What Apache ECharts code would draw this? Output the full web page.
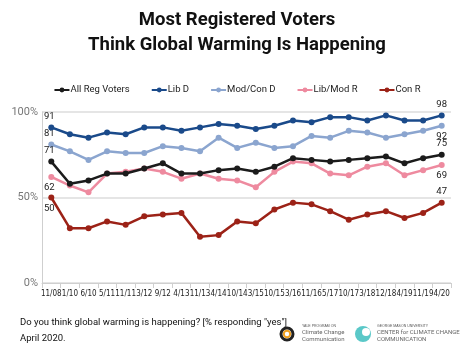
<!DOCTYPE html>
<html><head><meta charset="utf-8">
<script src="https://cdn.jsdelivr.net/npm/echarts@6/dist/echarts.min.js"></script>
<style>html,body{margin:0;padding:0;background:#fff}#c{width:474px;height:355px}</style>
</head><body><div id="c"></div>
<script>
const categories = ['11/08','1/10','6/10','5/11','11/11','3/12','9/12','4/13','11/13','4/14','10/14','3/15','10/15','3/16','11/16','5/17','10/17','3/18','12/18','4/19','11/19','4/20'];
const allRegVoters = [71,58,60,64,64,67,70,64,64,66,67,65,68,73,72,71,72,73,74,70,73,75];
const libD = [91,87,85,88,87,91,91,89,91,93,92,90,92,95,94,97,97,95,98,95,95,98];
const modConD = [81,77,72,77,76,76,80,79,77,85,79,82,79,80,86,85,89,88,85,87,89,92];
const libModR = [62,57,53,64,65,67,65,61,64,61,60,56,65,71,70,64,63,68,70,63,66,69];
const conR = [50,32,32,36,34,39,40,41,27,28,36,35,43,47,46,42,37,40,42,38,41,47];
const seriesNames = ['All Reg Voters','Lib D','Mod/Con D','Lib/Mod R','Con R'];
const yTicks = [0,50,100];

const colors = ['#1b1b1b','#1a4a8a','#8ba5cf','#ee8a9f','#9c2217'];
const labelPos = [['top','top'],['top','top'],['top','bottom'],['bottom','bottom'],['bottom','top']];
const datas = [allRegVoters, libD, modConD, libModR, conR];

function mk(i){
  const d = datas[i];
  return {
    name: seriesNames[i], type:'line', data: d.map((v,k)=>{
      const o={value:v};
      if(k===0||k===d.length-1){
        o.label={show:true, position: labelPos[i][k===0?0:1], formatter:'{c}', fontSize:9.5, color:'#222', distance: 3, fontFamily:'Roboto', offset:[k===0?-2:0,0]};
      }
      return o;
    }),
    symbol:'circle', symbolSize:6, showSymbol:true,
    lineStyle:{width:2.5, color:colors[i]}, itemStyle:{color:colors[i]},
    emphasis:{disabled:true}, animation:false, z: 10-i
  };
}

const chart = echarts.init(document.getElementById('c'));
chart.setOption({
  animation:false,
  title:{text:'Most Registered Voters\nThink Global Warming Is Happening', left:'center', top:3,
    textStyle:{fontSize:18.5, fontWeight:'bold', color:'#111', lineHeight:25, fontFamily:'Roboto'}},
  legend:{data:seriesNames, top:80, left:'center', itemWidth:15, itemHeight:6, itemGap:21,
    textStyle:{fontSize:9.5, color:'#222', fontFamily:'Roboto', padding:[0,0,0,-4]}},
  grid:{left:42, right:23, top:112, bottom:72},
  xAxis:{type:'category', data:categories, boundaryGap:true,
    axisLine:{lineStyle:{color:'#cfcfcf'}}, axisTick:{show:true, lineStyle:{color:'#cfcfcf'}},
    axisLabel:{fontSize:8, color:'#222', interval:0, margin:7, fontFamily:'"Liberation Sans Narrow", "DejaVu Sans Condensed", Roboto'}},
  yAxis:{type:'value', min:0, max:100, interval:50,
    axisLine:{show:true, lineStyle:{color:'#cfcfcf'}},
    splitLine:{lineStyle:{color:'#dcdcdc', width:1.5}},
    axisLabel:{fontSize:11, color:'#777', formatter:v=>yTicks.includes(v)?v+'%':'', fontFamily:'Roboto', margin:4}},
  series:[0,1,2,3,4].map(mk),
  graphic:[
    {type:'text', left:20, top:315, style:{text:'Do you think global warming is happening? [% responding "yes"]\nApril 2020.', fontSize:9.5, lineHeight:16, fill:'#111', fontFamily:'Roboto'}},
    {type:'circle', shape:{cx:287, cy:334, r:6}, style:{fill:'none', stroke:'#222', lineWidth:3}},
    {type:'circle', shape:{cx:287, cy:334, r:3.2}, style:{fill:'none', stroke:'#f0a020', lineWidth:2}},
    {type:'text', left:302, top:324, style:{text:'YALE PROGRAM ON', fontSize:3.5, fill:'#555'}},
    {type:'text', left:302, top:329, style:{text:'Climate Change\nCommunication', fontSize:6, lineHeight:7, fill:'#666', fontFamily:'Roboto'}},
    {type:'circle', shape:{cx:363, cy:334, r:8}, style:{fill:'#5ac8c8'}},
    {type:'circle', shape:{cx:366, cy:332, r:4}, style:{fill:'#fff'}},
    {type:'text', left:377, top:324, style:{text:'GEORGE MASON UNIVERSITY', fontSize:3.5, fill:'#555'}},
    {type:'text', left:377, top:329, style:{text:'CENTER for CLIMATE CHANGE\nCOMMUNICATION', fontSize:6, lineHeight:7, fill:'#666', fontFamily:'Roboto'}}
  ]
});
</script></body></html>
